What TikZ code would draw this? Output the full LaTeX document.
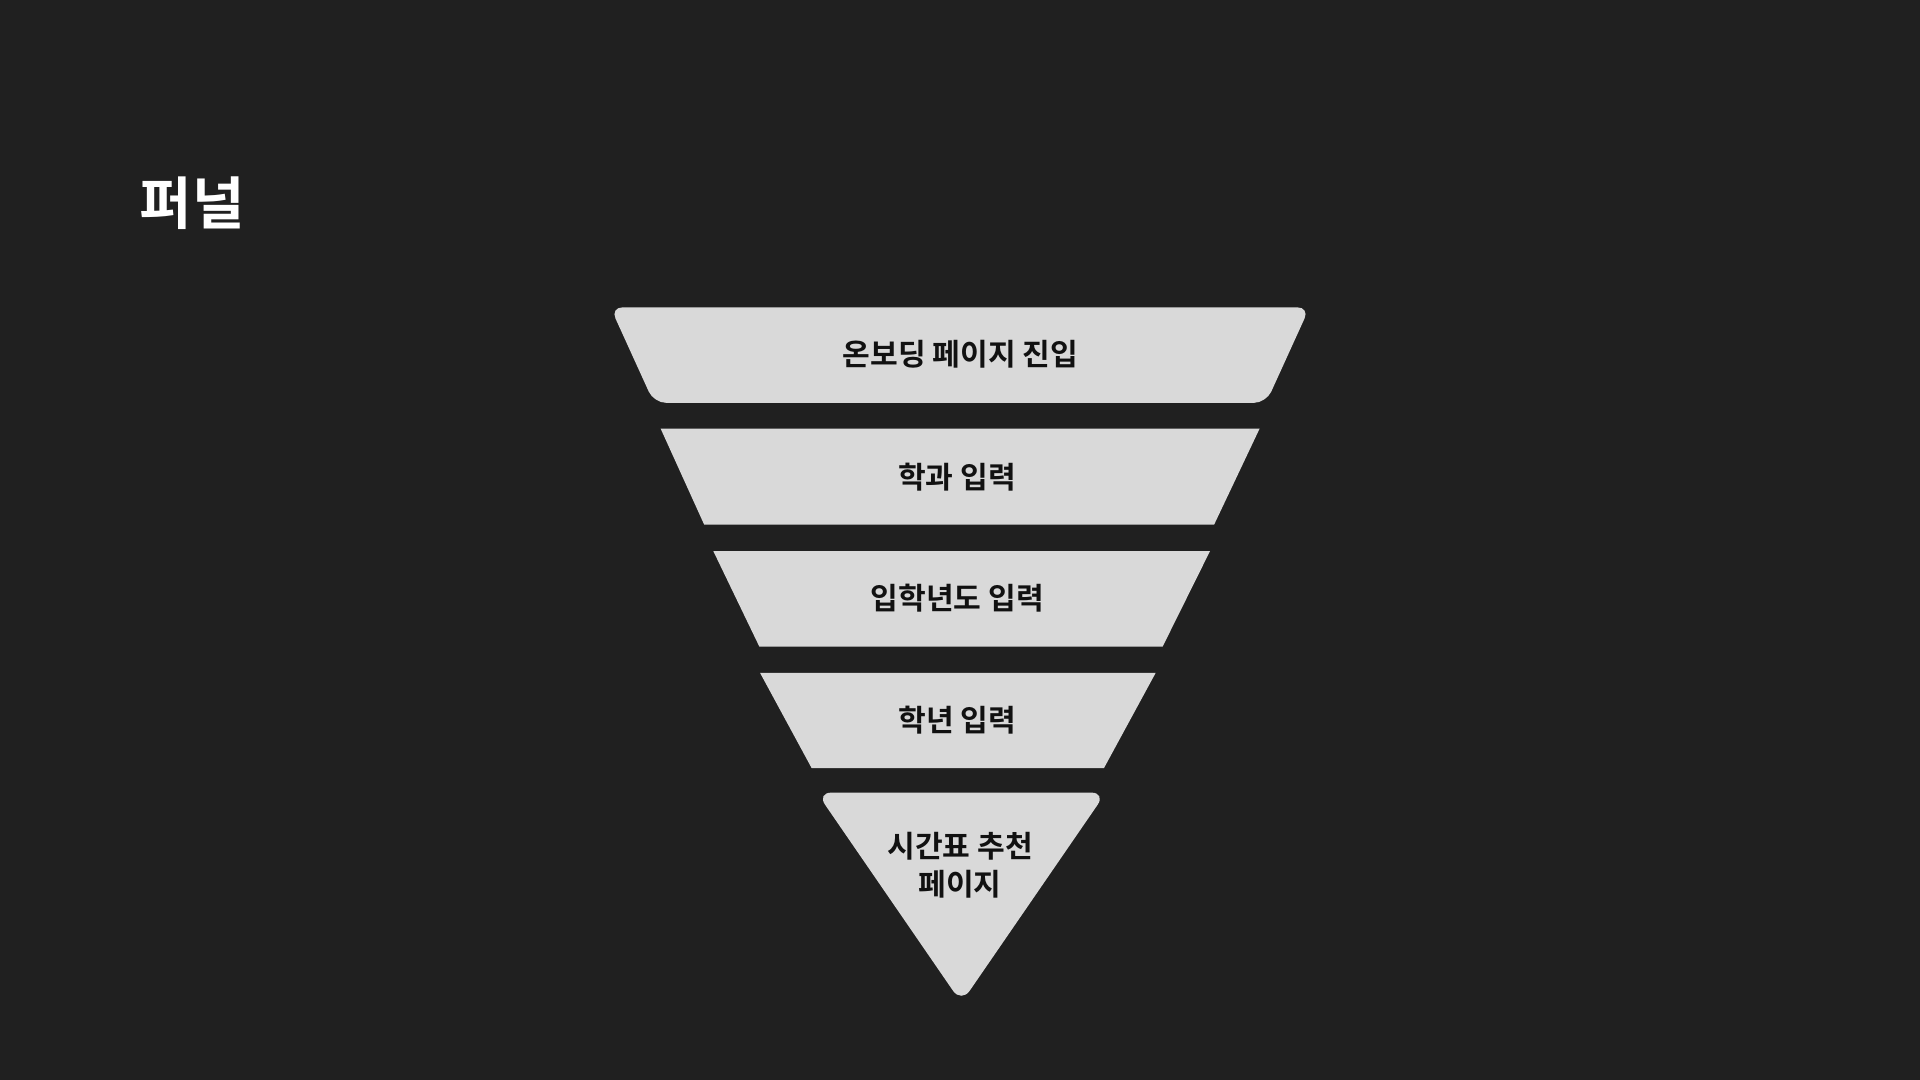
\documentclass[tikz,border=0pt]{standalone}
\usepackage{fontspec}
\setmainfont{Noto Sans CJK KR}[BoldFont={* Bold}]
\usepackage{xcolor}
\definecolor{bgdark}{HTML}{202020}
\definecolor{layergray}{HTML}{D9D9D9}
\definecolor{labelink}{HTML}{111111}

\begin{document}
\begin{tikzpicture}[x=1pt, y=-1pt,
    layer/.style={fill=layergray, draw=none},
    layerlabel/.style={text=labelink, font=\bfseries\fontsize{24.6}{31}\selectfont, inner sep=0pt, align=center}]
            \fill [bgdark] (0,0) rectangle (1568,882);
            \useasboundingbox (0,0) rectangle (1568,882);
            \node (title) [text=white, font=\bfseries\fontsize{46.5}{54}\selectfont, inner sep=0pt] at (157, 166) {퍼널};
            % funnel layers, top to bottom
            \draw [layer, rounded corners=10pt] (498.5, 251) -- (1069.5, 251) -- (1034, 329) -- (534, 329) -- cycle;
            \draw [layer] (539.5, 350) -- (1028.7, 350) -- (991.5, 428.5) -- (575.1, 428.5) -- cycle;
            \draw [layer] (582.5, 450) -- (988.2, 450) -- (949.5, 528) -- (620.1, 528) -- cycle;
            \draw [layer] (620.7, 549.5) -- (943.8, 549.5) -- (901.6, 627.2) -- (662.8, 627.2) -- cycle;
            \draw [layer, rounded corners=12pt] (667, 647.3) -- (903.2, 647.3) -- (785.1, 819) -- cycle;
            \node (onboarding) [layerlabel] at (784.5, 289.5) {온보딩 페이지 진입};
            \node (major) [layerlabel] at (781.5, 389.3) {학과 입력};
            \node (entryyear) [layerlabel] at (781.7, 488.4) {입학년도 입력};
            \node (grade) [layerlabel] at (781.8, 588.3) {학년 입력};
            \node (timetable) [layerlabel] at (784, 706.4) {시간표 추천\\페이지};
        \end{tikzpicture}
\end{document}
